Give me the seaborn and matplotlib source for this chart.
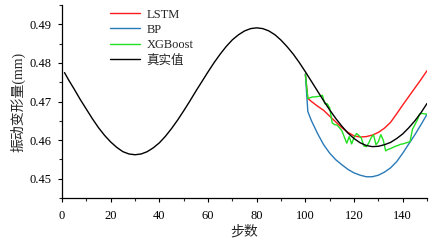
import numpy as np
import pandas as pd
import matplotlib
matplotlib.use("Agg")
import matplotlib.pyplot as plt
import seaborn as sns
from matplotlib.ticker import MultipleLocator, FormatStrFormatter

# ---- data ----
true_x = [1, 2.5, 5, 7.5, 10, 12.5, 15, 17.5, 20, 22.5, 25, 27.5, 30, 32.5, 35, 37.5, 40,
          42.5, 45, 47.5, 50, 52.5, 55, 57.5, 60, 62.5, 65, 67.5, 70, 72.5, 75, 77.5, 80,
          82.5, 85, 87.5, 90, 92.5, 95, 97.5, 100, 102.5, 105, 107.5, 110, 112.5, 115,
          117.5, 120, 122.5, 125, 127.5, 130, 132.5, 135, 137.5, 140, 142.5, 145, 147.5, 150]
true_y = [0.4775, 0.4758, 0.4732, 0.4705, 0.4680, 0.4655, 0.4632, 0.4612, 0.4595, 0.4581,
          0.4570, 0.4564, 0.4562, 0.4564, 0.4570, 0.4580, 0.4593, 0.4610, 0.4630, 0.4652,
          0.4676, 0.4701, 0.4727, 0.4752, 0.4777, 0.4801, 0.4823, 0.4843, 0.4860, 0.4873,
          0.4883, 0.4889, 0.4891, 0.4889, 0.4883, 0.4873, 0.4859, 0.4842, 0.4823, 0.4801,
          0.4777, 0.4752, 0.4727, 0.4702, 0.4678, 0.4656, 0.4636, 0.4618, 0.4604, 0.4593,
          0.4586, 0.4583, 0.4584, 0.4588, 0.4594, 0.4604, 0.4616, 0.4632, 0.4650, 0.4671,
          0.4695]

lstm_x = [100, 101, 102.5, 105, 107.5, 110, 112.5, 115, 117.5, 120, 122.5, 125, 127.5,
          130, 132.5, 135, 137.5, 140, 142.5, 145, 147.5, 150]
lstm_y = [0.4771, 0.4708, 0.4700, 0.4688, 0.4677, 0.4662, 0.4647, 0.4632, 0.4620, 0.4611,
          0.4608, 0.4609, 0.4613, 0.4620, 0.4631, 0.4646, 0.4668, 0.4691, 0.4713, 0.4735,
          0.4757, 0.4780]

bp_x = [100, 101, 102.5, 105, 107.5, 110, 112.5, 115, 117.5, 120, 122.5, 125, 127.5,
        130, 132.5, 135, 137.5, 140, 142.5, 145, 147.5, 150]
bp_y = [0.4771, 0.4674, 0.4650, 0.4617, 0.4588, 0.4566, 0.4549, 0.4536, 0.4524, 0.4515,
        0.4509, 0.4505, 0.4505, 0.4509, 0.4517, 0.4528, 0.4544, 0.4566, 0.4590, 0.4614,
        0.4640, 0.4667]

xgb_x = list(range(100, 151))
xgb_y = [0.4770, 0.4708, 0.4710, 0.4712, 0.4712, 0.4713, 0.4714, 0.4716, 0.4694, 0.4694,
         0.4683, 0.4645, 0.4640, 0.4639, 0.4632, 0.4624, 0.4608, 0.4592, 0.4609, 0.4590,
         0.4607, 0.4617, 0.4612, 0.4605, 0.4585, 0.4583, 0.4592, 0.4606, 0.4614, 0.4588,
         0.4596, 0.4614, 0.4600, 0.4572, 0.4576, 0.4578, 0.4581, 0.4584, 0.4586, 0.4589,
         0.4590, 0.4592, 0.4594, 0.4596, 0.4628, 0.4640, 0.4652, 0.4668, 0.4669, 0.4668,
         0.4667]

labels = ["LSTM", "BP", "XGBoost", "真实值"]
colors = ["#ff1a1a", "#2a7ab8", "#22e022", "#000000"]
xlabel = "步数"
ylabel = "振动变形量(mm)"

# ---- style ----
sns.set_style("ticks")
plt.rcParams["font.family"] = ["Liberation Serif", "Noto Sans CJK SC", "DejaVu Sans"]
plt.rcParams["axes.unicode_minus"] = False

fig = plt.figure(figsize=(4.34, 2.42), dpi=100)
ax = fig.add_axes([0.143, 0.182, 0.841, 0.797])

series = [(lstm_x, lstm_y), (bp_x, bp_y), (xgb_x, xgb_y), (true_x, true_y)]
for (xs, ys), lab, col in zip(series, labels, colors):
    df = pd.DataFrame({"x": xs, "y": ys})
    sns.lineplot(data=df, x="x", y="y", ax=ax, color=col, label=lab,
                 linewidth=1.0, estimator=None, sort=False)

ax.set_xlim(0, 150)
ax.set_ylim(0.445, 0.495)
ax.xaxis.set_major_locator(MultipleLocator(20))
ax.xaxis.set_minor_locator(MultipleLocator(10))
ax.yaxis.set_major_locator(MultipleLocator(0.01))
ax.yaxis.set_minor_locator(MultipleLocator(0.005))
ax.yaxis.set_major_formatter(FormatStrFormatter("%.2f"))
ax.tick_params(which="major", direction="out", length=3, width=0.8, labelsize=9,
               colors="black")
ax.tick_params(axis="y", which="major", pad=4.5)
ax.tick_params(axis="x", which="major", pad=6)
ax.tick_params(which="minor", direction="out", length=2, width=0.8)

for s in ["top", "right"]:
    ax.spines[s].set_visible(False)
for s in ["left", "bottom"]:
    ax.spines[s].set_linewidth(0.9)
    ax.spines[s].set_color("black")

ax.set_xlabel(xlabel, fontsize=10, labelpad=2)
ax.set_ylabel(ylabel, fontsize=10, labelpad=3)

leg = ax.legend(loc="upper left", bbox_to_anchor=(0.11, 1.02), frameon=False,
                fontsize=9, handlelength=2.4, handletextpad=0.55, labelspacing=0.25,
                borderaxespad=0.2)

fig.savefig("out.png", dpi=100)
